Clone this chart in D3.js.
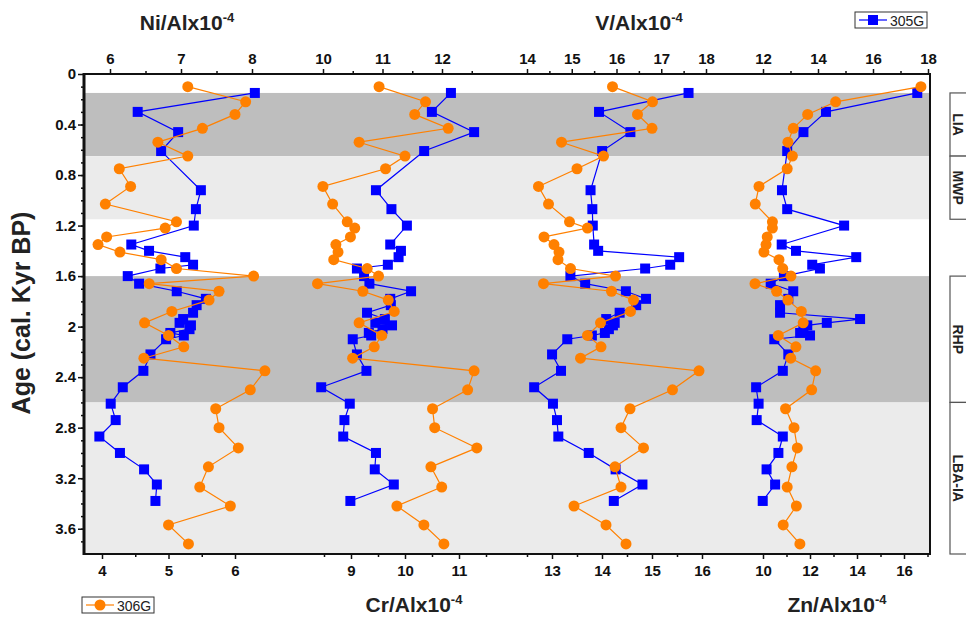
<!DOCTYPE html>
<html>
<head>
<meta charset="utf-8">
<script src="https://cdn.jsdelivr.net/npm/d3@7"></script>
<style>
body { margin: 0; background: #fff; }
text { font-family: Arial, "Liberation Sans", sans-serif; }
</style>
</head>
<body>
<script>
var w = 966;
var h = 617;

// sample ages (cal. kyr BP)
var ages305 = [0.15,0.30,0.46,0.61,0.92,1.07,1.20,1.35,1.40,1.45,1.51,1.54,1.60,1.66,1.72,1.78,1.83,1.89,1.94,1.97,
               1.99,2.02,2.05,2.07,2.10,2.22,2.35,2.48,2.61,2.74,2.87,3.00,3.13,3.25,3.38];
var ages306 = [0.10,0.22,0.32,0.43,0.54,0.65,0.75,0.89,1.03,1.17,1.22,1.29,1.35,1.41,1.47,1.54,1.60,1.66,1.72,1.79,
               1.88,1.97,2.07,2.16,2.25,2.35,2.50,2.65,2.80,2.96,3.11,3.27,3.42,3.57,3.72];

// element / Al x10^-4
var ni305 = [8.04,6.39,6.96,6.72,7.28,7.21,7.18,6.30,6.55,7.06,7.17,6.71,6.25,6.41,6.94,7.35,7.22,7.17,7.03,6.98,
             7.14,7.12,6.85,7.04,6.79,6.57,6.47,6.18,6.01,6.08,5.85,6.14,6.48,6.66,6.64];
var ni306 = [5.29,6.16,6.00,5.51,4.84,5.29,4.26,4.43,4.05,5.12,4.95,4.07,3.94,4.27,4.89,5.12,6.28,4.71,5.76,5.61,
             5.05,4.64,5.00,5.23,4.63,6.45,6.23,5.71,5.76,6.05,5.60,5.47,5.93,5.00,5.30];
var cr305 = [12.15,11.83,12.54,11.70,10.89,11.15,11.41,11.13,11.31,11.27,11.09,10.57,10.69,10.78,11.48,11.13,11.14,10.74,11.04,10.88,
             11.16,11.00,10.77,10.81,10.50,10.57,10.73,9.97,10.45,10.36,10.34,10.89,10.87,11.19,10.46];
var cr306 = [9.52,10.38,10.18,10.80,9.15,10.00,9.64,8.48,8.66,8.93,9.07,8.99,8.72,8.76,8.68,9.30,9.51,8.38,9.22,9.69,
             9.80,9.15,9.57,9.43,9.03,11.28,11.16,10.51,10.55,11.33,10.48,10.68,9.85,10.35,10.72];
var v305 = [17.61,15.61,16.31,15.68,15.42,15.46,15.47,15.50,15.59,17.40,17.20,16.64,14.97,15.30,16.21,16.66,16.44,16.07,15.77,15.96,
            15.92,15.83,15.74,15.45,14.90,14.56,14.76,14.16,14.58,14.67,14.70,15.38,15.98,16.58,15.94];
var v306 = [14.21,15.01,14.71,15.00,13.19,14.03,13.50,12.73,12.93,13.35,13.71,12.84,13.04,13.14,13.12,13.37,14.27,12.83,14.19,14.63,
            14.57,13.97,13.71,13.98,13.57,15.94,15.41,14.56,14.38,14.83,14.26,14.38,13.44,14.08,14.48];
var zn305 = [17.61,14.29,13.47,12.88,12.69,12.88,14.95,12.68,13.20,15.39,13.79,14.07,12.76,12.28,13.10,12.92,12.62,12.62,15.53,14.32,
             13.61,13.47,13.35,13.71,12.41,12.92,12.72,11.75,11.84,11.77,12.72,12.56,12.13,12.44,11.99];
var zn306 = [16.72,13.09,11.90,11.29,11.06,11.25,11.03,9.83,9.67,10.40,10.40,10.18,10.13,10.04,10.68,10.84,11.19,9.66,10.58,11.06,
             11.63,11.71,10.65,11.40,11.18,12.24,12.07,10.96,11.32,11.46,11.23,11.03,11.42,10.86,11.57];

// tick labels
var ageTicks = [0, 0.4, 0.8, 1.2, 1.6, 2, 2.4, 2.8, 3.2, 3.6];
var niTopTicks = [6, 7, 8],        niTopMinor = [6.5, 7.5];
var niBotTicks = [4, 5, 6],        niBotMinor = [4.5, 5.5];
var crTopTicks = [10, 11, 12],     crTopMinor = [10.5, 11.5, 12.5];
var crBotTicks = [9, 10, 11],      crBotMinor = [8.5, 9.5, 10.5, 11.5];
var vTopTicks = [14, 15, 16, 17, 18], vTopMinor = [14.5, 15.5, 16.5, 17.5];
var vBotTicks = [13, 14, 15, 16],  vBotMinor = [12.5, 13.5, 14.5, 15.5];
var znTopTicks = [12, 14, 16, 18], znTopMinor = [13, 15, 17];
var znBotTicks = [10, 12, 14, 16], znBotMinor = [11, 13, 15, 17];

// climate periods
var periodNames = ["LIA", "MWP", "RHP", "LBA-IA"];
var periodFrom = [0.15, 0.65, 1.6, 2.6];
var periodTo = [0.65, 1.15, 2.6, 3.8];

var left = 84, right = 930, plotTop = 74, plotBottom = 554;
var blue = "#0000ff", orange = "#ff8000";

var svg = d3.select("body")
    .append("svg")
    .attr("width", w)
    .attr("height", h);

var y = d3.scaleLinear().domain([0, 3.8]).range([plotTop, plotBottom]);

// shaded bands
var bandFill = ["#bebebe", "#ebebeb", "#bebebe", "#ebebeb"];
svg.selectAll("rect.band")
    .data(periodNames)
    .enter()
    .append("rect")
    .attr("class", "band")
    .attr("x", left)
    .attr("width", right - left)
    .attr("y", function(d, i) { return y(periodFrom[i]); })
    .attr("height", function(d, i) { return y(periodTo[i]) - y(periodFrom[i]); })
    .attr("fill", function(d, i) { return bandFill[i]; });

// one panel per element: top axis = 305G, bottom axis = 306G
var panels = [
    {el: "Ni", titleAt: "top", tx: 187,
     top: d3.scaleLinear().domain([6, 8]).range([110, 252]), topTicks: niTopTicks, topMinor: niTopMinor,
     bot: d3.scaleLinear().domain([4, 6]).range([102, 235]), botTicks: niBotTicks, botMinor: niBotMinor,
     a: ni305, b: ni306},
    {el: "Cr", titleAt: "bottom", tx: 414,
     top: d3.scaleLinear().domain([10, 12]).range([323, 442]), topTicks: crTopTicks, topMinor: crTopMinor,
     bot: d3.scaleLinear().domain([9, 11]).range([351, 459]), botTicks: crBotTicks, botMinor: crBotMinor,
     a: cr305, b: cr306},
    {el: "V", titleAt: "top", tx: 639,
     top: d3.scaleLinear().domain([14, 18]).range([527, 706]), topTicks: vTopTicks, topMinor: vTopMinor,
     bot: d3.scaleLinear().domain([13, 16]).range([552, 702]), botTicks: vBotTicks, botMinor: vBotMinor,
     a: v305, b: v306},
    {el: "Zn", titleAt: "bottom", tx: 837,
     top: d3.scaleLinear().domain([12, 18]).range([763, 928]), topTicks: znTopTicks, topMinor: znTopMinor,
     bot: d3.scaleLinear().domain([10, 16]).range([763, 904]), botTicks: znBotTicks, botMinor: znBotMinor,
     a: zn305, b: zn306}
];

var line = d3.line();

panels.forEach(function(p) {
    var g = svg.append("g");

    // 305G (blue squares)
    var pa = ages305.map(function(a, i) { return [p.top(p.a[i]), y(a)]; });
    g.append("path")
        .attr("d", line(pa))
        .attr("fill", "none")
        .attr("stroke", blue)
        .attr("stroke-width", 1.2);
    g.selectAll("rect.m305")
        .data(pa)
        .enter()
        .append("rect")
        .attr("x", function(d) { return d[0] - 5; })
        .attr("y", function(d) { return d[1] - 5; })
        .attr("width", 10)
        .attr("height", 10)
        .attr("fill", blue);

    // 306G (orange circles)
    var pb = ages306.map(function(a, i) { return [p.bot(p.b[i]), y(a)]; });
    g.append("path")
        .attr("d", line(pb))
        .attr("fill", "none")
        .attr("stroke", orange)
        .attr("stroke-width", 1.2);
    g.selectAll("circle")
        .data(pb)
        .enter()
        .append("circle")
        .attr("cx", function(d) { return d[0]; })
        .attr("cy", function(d) { return d[1]; })
        .attr("r", 5.5)
        .attr("fill", orange);
});

// frame
svg.append("rect")
    .attr("x", left)
    .attr("y", plotTop)
    .attr("width", right - left)
    .attr("height", plotBottom - plotTop)
    .attr("fill", "none")
    .attr("stroke", "#111")
    .attr("stroke-width", 2);

function styleAxis(sel) {
    sel.select(".domain").remove();
    sel.selectAll("line").attr("stroke", "#111").attr("stroke-width", 1.5);
    sel.selectAll("text")
        .attr("fill", "#111")
        .style("font-size", "15px")
        .style("font-weight", "bold");
}

panels.forEach(function(p) {
    svg.append("g")
        .attr("transform", "translate(0," + plotTop + ")")
        .call(d3.axisTop(p.top).tickValues(p.topTicks).tickSize(5).tickPadding(5).tickFormat(d3.format("d")))
        .call(styleAxis);
    svg.append("g")
        .attr("transform", "translate(0," + plotTop + ")")
        .call(d3.axisTop(p.top).tickValues(p.topMinor).tickSize(3).tickFormat(""))
        .call(styleAxis);
    svg.append("g")
        .attr("transform", "translate(0," + plotBottom + ")")
        .call(d3.axisBottom(p.bot).tickValues(p.botTicks).tickSize(5).tickPadding(6).tickFormat(d3.format("d")))
        .call(styleAxis);
    svg.append("g")
        .attr("transform", "translate(0," + plotBottom + ")")
        .call(d3.axisBottom(p.bot).tickValues(p.botMinor).tickSize(3).tickFormat(""))
        .call(styleAxis);

    var t = svg.append("text")
        .attr("x", p.tx)
        .attr("y", p.titleAt === "top" ? 30 : 612)
        .attr("text-anchor", "middle")
        .attr("fill", "#222")
        .style("font-size", "21px")
        .style("font-weight", "bold");
    t.append("tspan").text(p.el + "/Alx10");
    t.append("tspan").attr("dy", -8).style("font-size", "13px").text("-4");
});

// age axis
svg.append("g")
    .attr("transform", "translate(" + left + ",0)")
    .call(d3.axisLeft(y).tickValues(ageTicks).tickSize(6).tickPadding(2).tickFormat(function(d) { return d; }))
    .call(styleAxis);
svg.append("g")
    .attr("transform", "translate(" + left + ",0)")
    .call(d3.axisLeft(y).tickValues(d3.range(0.1, 3.8, 0.1)).tickSize(3).tickFormat(""))
    .call(styleAxis);
svg.append("line")
    .attr("x1", left).attr("x2", left)
    .attr("y1", plotTop - 1).attr("y2", plotBottom + 1)
    .attr("stroke", "#111")
    .attr("stroke-width", 3);

svg.append("text")
    .attr("transform", "translate(30," + 313 + ") rotate(-90)")
    .attr("text-anchor", "middle")
    .attr("fill", "#222")
    .style("font-size", "25px")
    .style("font-weight", "bold")
    .text("Age (cal. Kyr BP)");

// period boxes on the right
var pg = svg.append("g");
pg.selectAll("rect")
    .data([0, 1, 2, 3])
    .enter()
    .append("rect")
    .attr("x", 950)
    .attr("width", 40)
    .attr("y", function(i) { return y(periodFrom[i]); })
    .attr("height", function(i) { return y(periodTo[i]) - y(periodFrom[i]); })
    .attr("fill", "#fff")
    .attr("stroke", "#555")
    .attr("stroke-width", 1.2);
pg.selectAll("text")
    .data([0, 1, 2, 3])
    .enter()
    .append("text")
    .attr("transform", function(i) {
        return "translate(958," + y((periodFrom[i] + periodTo[i]) / 2) + ") rotate(90)";
    })
    .attr("text-anchor", "middle")
    .attr("dominant-baseline", "central")
    .attr("fill", "#222")
    .style("font-size", "14px")
    .style("font-weight", "bold")
    .text(function(i) { return periodNames[i]; });

// legends
var l1 = svg.append("g").attr("transform", "translate(855,12)");
l1.append("rect").attr("width", 72).attr("height", 16).attr("fill", "#fff").attr("stroke", "#333");
l1.append("line").attr("x1", 4).attr("x2", 32).attr("y1", 8).attr("y2", 8).attr("stroke", blue).attr("stroke-width", 1.2);
l1.append("rect").attr("x", 13).attr("y", 3).attr("width", 10).attr("height", 10).attr("fill", blue);
l1.append("text").attr("x", 35).attr("y", 13.5).style("font-size", "14px").attr("fill", "#222").text("305G");

var l2 = svg.append("g").attr("transform", "translate(82,597)");
l2.append("rect").attr("width", 72).attr("height", 16).attr("fill", "#fff").attr("stroke", "#333");
l2.append("line").attr("x1", 4).attr("x2", 32).attr("y1", 8).attr("y2", 8).attr("stroke", orange).attr("stroke-width", 1.2);
l2.append("circle").attr("cx", 18).attr("cy", 8).attr("r", 5.5).attr("fill", orange);
l2.append("text").attr("x", 35).attr("y", 13.5).style("font-size", "14px").attr("fill", "#222").text("306G");
</script>
</body>
</html>
